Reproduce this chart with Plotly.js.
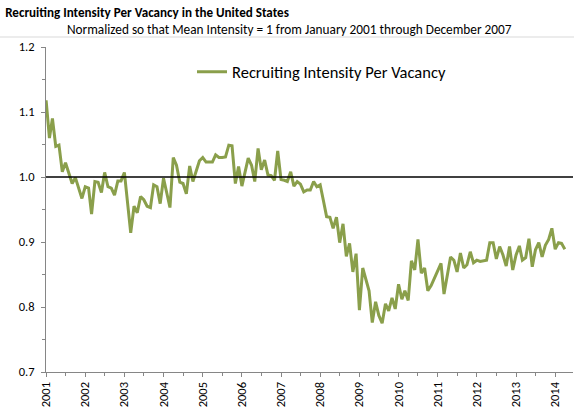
<!DOCTYPE html>
<html>
<head>
<meta charset="utf-8">
<script src="https://cdn.plot.ly/plotly-3.0.1.min.js"></script>
<style>html,body{margin:0;padding:0;background:#fff;}#chart{width:574px;height:418px;}</style>
</head>
<body>
<div id="chart"></div>
<script>
// Monthly series, January 2001 onward
const startYear = 2001;
const startMonth = 1;
const seriesName = 'Recruiting Intensity Per Vacancy';
const intensity = [
  1.118, 1.060, 1.090, 1.047, 1.049, 1.008, 1.022, 1.005, 0.990, 0.999, 0.983, 0.967,
  0.985, 0.983, 0.943, 0.993, 0.992, 0.976, 1.007, 0.985, 0.983, 0.972, 0.994, 0.994,
  1.007, 0.960, 0.914, 0.955, 0.945, 0.970, 0.965, 0.955, 0.953, 0.988, 0.985, 0.959,
  0.998, 0.975, 0.953, 1.030, 1.018, 0.992, 0.990, 0.974, 1.017, 0.993, 1.011, 1.025,
  1.030, 1.023, 1.023, 1.023, 1.034, 1.030, 1.030, 1.031, 1.049, 1.048, 0.990, 1.016,
  0.986, 1.011, 1.029, 1.018, 0.993, 1.044, 1.011, 1.026, 1.003, 1.002, 0.995, 1.040,
  0.996, 0.995, 0.993, 1.008, 0.986, 0.993, 0.989, 0.977, 0.980, 0.980, 0.993, 0.985,
  0.988, 0.963, 0.939, 0.938, 0.921, 0.938, 0.899, 0.928, 0.878, 0.898, 0.854, 0.882,
  0.795, 0.860, 0.845, 0.825, 0.776, 0.808, 0.787, 0.775, 0.805, 0.794, 0.814, 0.797,
  0.835, 0.812, 0.825, 0.810, 0.871, 0.857, 0.904, 0.852, 0.860, 0.825, 0.833, 0.844,
  0.855, 0.867, 0.820, 0.850, 0.877, 0.872, 0.854, 0.883, 0.860, 0.865, 0.885, 0.868,
  0.872, 0.870, 0.871, 0.872, 0.899, 0.899, 0.874, 0.893, 0.880, 0.863, 0.893, 0.857,
  0.880, 0.894, 0.872, 0.876, 0.905, 0.862, 0.888, 0.899, 0.877, 0.895, 0.904, 0.921,
  0.889, 0.899, 0.898, 0.889
];
const yearTicks = ['2001','2002','2003','2004','2005','2006','2007','2008','2009','2010','2011','2012','2013','2014'];
const referenceLevel = 1.0;

// month category labels (dates) for each value
const months = intensity.map((v, i) => {
  const t = (startMonth - 1) + i;
  const y = startYear + Math.floor(t / 12);
  const m = (t % 12) + 1;
  return y + '-' + String(m).padStart(2, '0') + '-01';
});

const FONT = 'Carlito, Lato, "Liberation Sans", sans-serif';
const axisGray = '#868686';

const trace = {
  x: months,
  y: intensity,
  type: 'scatter',
  mode: 'lines',
  name: seriesName,
  line: {color: '#8a9f4b', width: 3}
};

const layout = {
  width: 574,
  height: 418,
  margin: {l: 46, r: 1, t: 47, b: 46},
  paper_bgcolor: '#ffffff',
  plot_bgcolor: '#ffffff',
  font: {family: FONT, size: 12, color: '#000'},
  title: {
    text: '<b>Recruiting Intensity Per Vacancy in the United States</b>',
    font: {family: FONT, size: 13.1, color: '#000'},
    x: 0.009, xref: 'container', xanchor: 'left',
    y: 1 - 12.5 / 418, yref: 'container', yanchor: 'middle'
  },
  annotations: [{
    text: 'Normalized so that Mean Intensity = 1 from January 2001 through December 2007',
    xref: 'paper', yref: 'paper',
    x: (65 - 46) / 527, xanchor: 'left',
    y: 1 + (47 - 29) / 325, yanchor: 'middle',
    showarrow: false,
    font: {family: FONT, size: 13.3, color: '#000'}
  }],
  shapes: [
    {type: 'line', xref: 'paper', yref: 'y', x0: 0, x1: 1, y0: referenceLevel, y1: referenceLevel,
     line: {color: '#000', width: 1.6}, layer: 'above'},
    {type: 'line', xref: 'paper', yref: 'paper', x0: -46 / 527, x1: 1 + 1 / 527,
     y0: 1 + (47 - 37) / 325, y1: 1 + (47 - 37) / 325, line: {color: '#d9d9d9', width: 1}}
  ],
  showlegend: true,
  legend: {
    x: (192 - 46) / 527, xanchor: 'left',
    y: 1 - (72 - 47) / 325, yanchor: 'middle',
    bgcolor: 'rgba(0,0,0,0)',
    itemwidth: 30,
    font: {family: FONT, size: 16.5, color: '#000'}
  },
  xaxis: {
    type: 'date',
    range: ['2000-12-31', '2014-06-16'],
    tickmode: 'array',
    tickvals: yearTicks.map(y => y + '-01-01'),
    ticktext: yearTicks,
    tickangle: -90,
    ticks: 'outside', ticklen: 4, tickcolor: axisGray, tickwidth: 1,
    minor: {ticks: 'outside', dtick: 'M6', tick0: '2001-01-01', ticklen: 3, tickcolor: axisGray, showgrid: false},
    showline: true, linecolor: axisGray, linewidth: 1,
    showgrid: false, zeroline: false,
    tickfont: {family: FONT, size: 12.5, color: '#000'}
  },
  yaxis: {
    range: [0.7, 1.2],
    dtick: 0.1, tick0: 0.7,
    tickformat: '.1f',
    ticks: 'outside', ticklen: 4, tickcolor: axisGray, tickwidth: 1,
    minor: {ticks: 'outside', dtick: 0.05, ticklen: 3, tickcolor: axisGray, showgrid: false},
    showline: true, linecolor: axisGray, linewidth: 1,
    showgrid: false, zeroline: false,
    ticklabelstandoff: 4,
    tickfont: {family: FONT, size: 12.5, color: '#000'}
  }
};

Plotly.newPlot('chart', [trace], layout, {displayModeBar: false, staticPlot: true});
</script>
</body>
</html>
